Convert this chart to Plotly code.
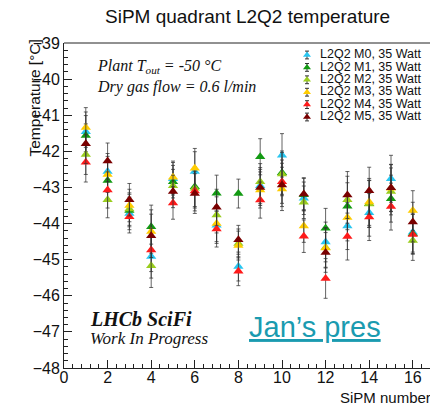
import plotly.graph_objects as go

# ---------------- data ----------------
sipm = list(range(1, 17))
series_names = ["L2Q2 M0, 35 Watt", "L2Q2 M1, 35 Watt", "L2Q2 M2, 35 Watt",
                "L2Q2 M3, 35 Watt", "L2Q2 M4, 35 Watt", "L2Q2 M5, 35 Watt"]
m0 = [-41.46, -42.56, -43.72, -44.91, -42.76, -42.56, -44.05, -45.19,
      -42.95, -42.11, -43.30, -44.51, -44.07, -43.70, -42.76, -44.24]
m1 = [-41.56, -42.81, -43.64, -44.09, -42.84, -42.98, -43.16, -43.17,
      -42.15, -42.59, -43.20, -44.13, -43.52, -43.45, -43.31, -44.28]
m2 = [-42.09, -43.34, -43.60, -45.17, -42.95, -43.02, -43.76, -44.55,
      -42.84, -42.63, -43.41, -44.66, -43.34, -43.46, -43.11, -44.47]
m3 = [-41.34, -42.64, -43.50, -44.22, -42.72, -42.47, -44.00, -44.61,
      -43.07, -43.04, -44.07, -44.68, -43.83, -43.40, -43.02, -43.64]
m4 = [-42.30, -43.07, -43.81, -44.73, -43.43, -43.10, -44.15, -45.32,
      -43.35, -42.84, -44.35, -45.52, -44.36, -43.82, -43.53, -44.30]
m5 = [-41.79, -42.27, -43.34, -44.34, -43.11, -43.17, -43.55, -44.45,
      -43.00, -42.93, -43.18, -44.80, -43.21, -43.09, -43.01, -43.96]
errors = [0.55, 0.5, 0.45, 0.6, 0.45, 0.55, 0.5, 0.4,
          0.5, 0.6, 0.45, 0.55, 0.65, 0.65, 0.65, 0.55]
series_values = [m0, m1, m2, m3, m4, m5]
colors = ["#29c6f0", "#139a13", "#9acd1e", "#ffcc00", "#ff1a1a", "#7a0000"]
x_ticks = list(range(0, 17, 2))
y_ticks = list(range(-48, -38))

# ---------------- layout constants ----------------
W, H = 430, 404
L, T, B = 64, 43, 36
plot_w = W - L
plot_h = H - T - B
XMAX = plot_w / 21.8


def px(xp):
    return (xp - L) / plot_w


def py(yp):
    return (H - B - yp) / plot_h


fig = go.Figure()

for name, vals, col in zip(series_names, series_values, colors):
    fig.add_trace(go.Scatter(
        x=sipm, y=vals, mode="markers", name=name, showlegend=False,
        marker=dict(symbol="triangle-up", size=9, color=col, line=dict(width=0)),
        error_y=dict(type="data", array=errors, visible=True,
                     color="rgba(50,50,50,0.75)", thickness=1, width=2),
    ))

# manual legend (ROOT style, tight spacing)
leg_y0 = 55
leg_dy = 12.4
for i, (name, col) in enumerate(zip(series_names, colors)):
    yy = py(leg_y0 + i * leg_dy)
    fig.add_trace(go.Scatter(
        x=[px(307)], y=[yy], xaxis="x2", yaxis="y2", mode="markers",
        showlegend=False, hoverinfo="skip",
        marker=dict(symbol="triangle-up", size=7, color=col),
        error_y=dict(type="data", array=[0.012], color="#333", thickness=1, width=2),
    ))
    fig.add_trace(go.Scatter(
        x=[px(320)], y=[yy], xaxis="x2", yaxis="y2", mode="text",
        text=[name], textposition="middle right", showlegend=False, hoverinfo="skip",
        textfont=dict(family="Liberation Sans", size=12.5, color="#111"),
    ))

serif = "Liberation Serif"
sans = "Liberation Sans"
ann = [
    dict(x=px(95), y=py(66), text="<i>Plant T<sub>out</sub> = -50 °C</i>",
         font=dict(family=serif, size=16, color="#111"), xanchor="left"),
    dict(x=px(95), y=py(87), text="<i>Dry gas flow = 0.6 l/min</i>",
         font=dict(family=serif, size=16, color="#111"), xanchor="left"),
    dict(x=px(88), y=py(319), text="<b><i>LHCb SciFi</i></b>",
         font=dict(family=serif, size=20, color="#111"), xanchor="left"),
    dict(x=px(88), y=py(338), text="<i>Work In Progress</i>",
         font=dict(family=serif, size=17, color="#111"), xanchor="left"),
    dict(x=px(247), y=py(327), text="<u>Jan’s pres</u>",
         font=dict(family=sans, size=29, color="#1a9bb0"), xanchor="left"),
    dict(x=px(247), y=py(16), text="SiPM quadrant L2Q2 temperature",
         font=dict(family=sans, size=19, color="#111"), xanchor="center"),
    dict(x=px(338), y=py(397), text="SiPM number",
         font=dict(family=sans, size=15, color="#111"), xanchor="left"),
    dict(x=px(34), y=py(38), text="Temperature [°C]", textangle=-90,
         font=dict(family=sans, size=15.5, color="#111"), xanchor="center", yanchor="top"),
]
for a in ann:
    a.setdefault("yanchor", "middle")
    fig.add_annotation(xref="paper", yref="paper", showarrow=False, **a)

# top frame line
fig.add_shape(type="line", xref="paper", yref="paper", x0=0, x1=1, y0=1, y1=1,
              line=dict(color="#222", width=1))

fig.update_layout(
    width=W, height=H,
    margin=dict(l=L, r=0, t=T, b=B),
    paper_bgcolor="white", plot_bgcolor="white",
    font=dict(family=sans, color="#111"),
    xaxis=dict(range=[0, XMAX], tickvals=x_ticks, ticks="inside", ticklen=8,
               tickcolor="#222", showline=True, linecolor="#222", linewidth=1,
               showgrid=False, zeroline=False, tickfont=dict(size=16, family=sans),
               minor=dict(dtick=0.4, ticks="inside", ticklen=4, tickcolor="#222"),
               ticklabelstandoff=-5, mirror=False),
    yaxis=dict(range=[-48, -39], tickvals=y_ticks, ticks="inside", ticklen=8,
               tickcolor="#222", showline=True, linecolor="#222", linewidth=1,
               showgrid=False, zeroline=False, tickfont=dict(size=16, family=sans),
               minor=dict(dtick=0.2, ticks="inside", ticklen=4, tickcolor="#222")),
    xaxis2=dict(overlaying="x", range=[0, 1], visible=False),
    yaxis2=dict(overlaying="y", range=[0, 1], visible=False),
    showlegend=False,
)

fig.write_html("out.html")
